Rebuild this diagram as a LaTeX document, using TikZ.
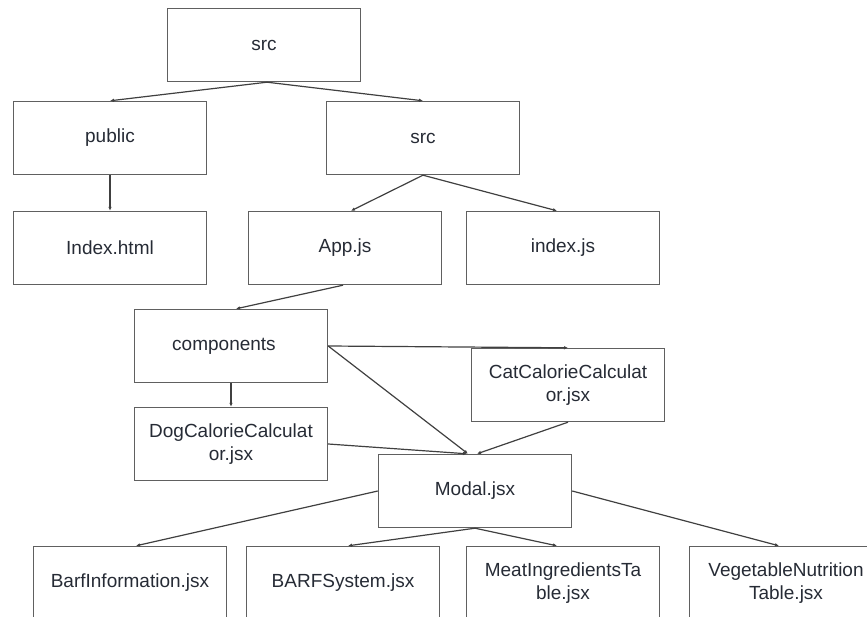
\documentclass[tikz,border=0pt]{standalone}
\usepackage{fontspec}
\setmainfont{Liberation Sans}
\usetikzlibrary{arrows.meta}
\definecolor{boxline}{HTML}{606060}
\definecolor{boxtext}{HTML}{262B35}
\definecolor{wire}{HTML}{404040}
\begin{document}
\begin{tikzpicture}[x=1pt, y=-1pt,
    every node/.style={font=\fontsize{19}{23}\selectfont, text=boxtext},
    filebox/.style={draw=boxline, line width=1.4pt, minimum width=193pt, minimum height=73pt, align=center, inner sep=0pt},
    link/.style={draw=wire, line width=1.2pt, -{Latex[length=4pt, width=3.5pt]}}]
    \useasboundingbox (0,0) rectangle (867,617);
    % first rows
    \node[filebox] (rootsrc) at (264,45) {src};
    \node[filebox] (public) at (110,138) {public};
    \node[filebox] (src) at (423,138) {src};
    \node[filebox] (indexhtml) at (110,248) {Index.html};
    \node[filebox] (appjs) at (345,248) {App.js};
    \node[filebox] (indexjs) at (563,248) {index.js};
    % components
    \node[filebox] (comps) at (231,346) {components\hspace*{14pt}};
    \node[filebox] (catcalc) at (568,385) {CatCalorieCalculat\\or.jsx};
    \node[filebox] (dogcalc) at (231,444) {DogCalorieCalculat\\or.jsx};
    \node[filebox] (modal) at (475,491) {Modal.jsx};
    % bottom row
    \node[filebox] (barfinfo) at (130,583) {BarfInformation.jsx};
    \node[filebox] (barfsys) at (343,583) {BARFSystem.jsx};
    \node[filebox] (meat) at (563,583) {MeatIngredientsTa\\ble.jsx};
    \node[filebox] (veg) at (786,583) {VegetableNutrition\\Table.jsx};
    % links
    \draw[link] ([xshift=3pt]rootsrc.south) -- (public.north);
    \draw[link] ([xshift=3pt]rootsrc.south) -- (src.north);
    \draw[link] (public.south) -- (indexhtml.north);
    \draw[link] (src.south) -- ([xshift=6pt]appjs.north);
    \draw[link] (src.south) -- ([xshift=-6pt]indexjs.north);
    \draw[link] ([xshift=-2pt]appjs.south) -- ([xshift=5pt]comps.north);
    \draw[link] (comps.east) -- (catcalc.north);
    \draw[link] (comps.east) -- ([xshift=-7pt]modal.north);
    \draw[link] (comps.south) -- (dogcalc.north);
    \draw[link] (catcalc.south) -- ([xshift=2pt]modal.north);
    \draw[link] (dogcalc.east) -- ([xshift=-8pt]modal.north);
    \draw[link] (modal.west) -- ([xshift=6pt]barfinfo.north);
    \draw[link] (modal.south) -- ([xshift=5pt]barfsys.north);
    \draw[link] (modal.south) -- ([xshift=-6pt]meat.north);
    \draw[link] (modal.east) -- ([xshift=-7pt]veg.north);
\end{tikzpicture}
\end{document}
